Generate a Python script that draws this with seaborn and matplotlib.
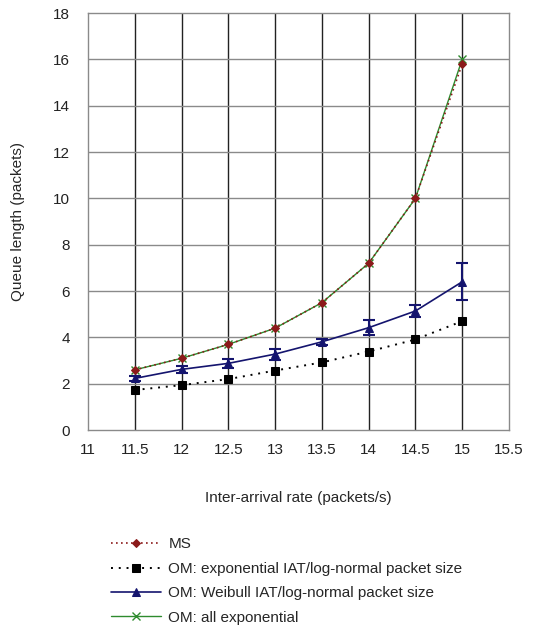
import matplotlib
matplotlib.use("Agg")
import matplotlib.pyplot as plt
import seaborn as sns
import pandas as pd

# inter-arrival rates (packets/s)
rate = [11.5, 12, 12.5, 13, 13.5, 14, 14.5, 15]

# queue lengths
ms = [2.6, 3.1, 3.7, 4.4, 5.5, 7.2, 10.0, 15.8]
om_exp_lognormal = [1.73, 1.94, 2.2, 2.57, 2.92, 3.39, 3.91, 4.7]
om_weibull_lognormal = [2.23, 2.62, 2.88, 3.28, 3.81, 4.42, 5.14, 6.4]
om_weibull_err = [0.1, 0.15, 0.2, 0.24, 0.12, 0.32, 0.25, 0.8]
om_all_exp = [2.6, 3.1, 3.7, 4.4, 5.5, 7.2, 10.0, 16.0]

labels = ["MS",
          "OM: exponential IAT/log-normal packet size",
          "OM: Weibull IAT/log-normal packet size",
          "OM: all exponential"]

sns.set_style("white")
plt.rcParams['font.family'] = ['Liberation Sans', 'DejaVu Sans']

fig, ax = plt.subplots(figsize=(5.34, 6.26), dpi=100)
fig.subplots_adjust(left=0.165, right=0.953, top=0.979, bottom=0.313)

df = pd.DataFrame({'rate': rate, 'ms': ms, 'exp': om_exp_lognormal,
                   'weib': om_weibull_lognormal, 'allexp': om_all_exp})

sns.lineplot(data=df, x='rate', y='allexp', ax=ax, color='#2e8b2e', lw=1.0,
             marker='x', markersize=5.5, markeredgewidth=1.0,
             markeredgecolor='#2e8b2e', label=labels[3], zorder=3)
sns.lineplot(data=df, x='rate', y='ms', ax=ax, color='#8b1a1a', lw=1.2,
             linestyle=(0, (1, 2)), marker='D', markersize=4,
             markeredgecolor='#8b1a1a', label=labels[0], zorder=4)
sns.lineplot(data=df, x='rate', y='exp', ax=ax, color='black', lw=1.4,
             linestyle=(0, (1, 3)), marker='s', markersize=5.5,
             markeredgecolor='black', label=labels[1], zorder=3)
sns.lineplot(data=df, x='rate', y='weib', ax=ax, color='#14146e', lw=1.2,
             marker='^', markersize=6, markeredgecolor='#14146e',
             label=labels[2], zorder=3)
ax.errorbar(rate, om_weibull_lognormal, yerr=om_weibull_err, fmt='none',
            ecolor='#14146e', elinewidth=1.5, capsize=4, capthick=1.5, zorder=3)

ax.set_xlim(11, 15.5)
ax.set_ylim(0, 18)
ax.set_xticks([11, 11.5, 12, 12.5, 13, 13.5, 14, 14.5, 15, 15.5])
ax.set_xticklabels(['11', '11.5', '12', '12.5', '13', '13.5', '14', '14.5', '15', '15.5'])
ax.set_yticks(range(0, 19, 2))

ax.grid(False)
for xv in ax.get_xticks()[1:-1]:
    ax.axvline(xv, color='#222222', lw=1.0, zorder=1)
for yv in ax.get_yticks()[1:-1]:
    ax.axhline(yv, color='#8a8a8a', lw=1.0, zorder=1)

for s in ax.spines.values():
    s.set_color('#8a8a8a')
    s.set_linewidth(1.0)

ax.tick_params(axis='both', labelsize=11, colors='#222222', length=0)
ax.tick_params(axis='x', pad=9)
ax.tick_params(axis='y', pad=13)
ax.set_xlabel('Inter-arrival rate (packets/s)', fontsize=11, labelpad=25)
ax.set_ylabel('Queue length (packets)', fontsize=11, labelpad=20)

handles, labs = ax.get_legend_handles_labels()
order = [labs.index(l) for l in labels]
ax.legend([handles[i] for i in order], [labs[i] for i in order],
          loc='upper left', bbox_to_anchor=(0.04, -0.243), frameon=False,
          fontsize=11, handlelength=3.3, handletextpad=0.45, labelspacing=0.68,
          borderaxespad=0)

fig.savefig('out.png', dpi=100)
